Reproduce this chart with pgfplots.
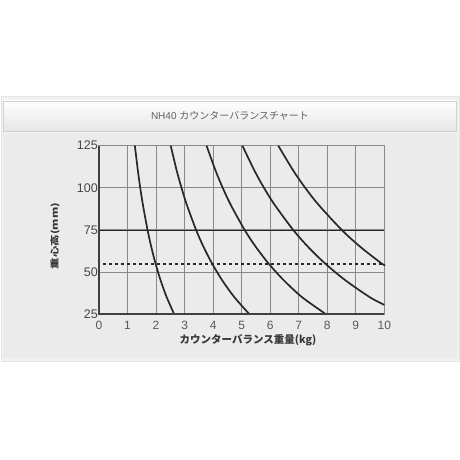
\documentclass[border=0pt]{standalone}
\usepackage{fontspec}
\setmainfont{Liberation Sans}
\newfontfamily\cjk{Noto Sans CJK JP}
\usepackage{pgfplots}
\pgfplotsset{compat=1.18}
\definecolor{panel}{HTML}{F1F1F1}
\definecolor{chartbg}{HTML}{EBEBEB}
\definecolor{gridc}{HTML}{8C8888}
\definecolor{curve}{HTML}{2E2626}

\begin{document}
\begin{tikzpicture}
\path[use as bounding box] (0pt,0pt) rectangle (460pt,460pt);
\fill[white] (0pt,0pt) rectangle (460pt,460pt);
% panel
\filldraw[fill=panel,draw=black!10] (1pt,99pt) rectangle (459pt,364pt);
\shade[top color=white,bottom color=black!10] (3.5pt,329pt) rectangle (456.5pt,359pt);
\draw[black!18] (3.5pt,329pt) rectangle (456.5pt,359pt);
\fill[chartbg] (3pt,102pt) rectangle (457pt,326pt);
\node[text=black!62] at (230pt,344pt) {\fontsize{10}{12}\selectfont NH40 {\cjk カウンターバランスチャート}};

\begin{axis}[
  at={(99pt,145.7pt)}, anchor=south west,
  scale only axis, width=285.3pt, height=168.6pt,
  xmin=0, xmax=10, ymin=25, ymax=125,
  xtick={0,...,10}, ytick={25,50,75,100,125},
  major tick length=0pt,
  grid=major,
  grid style={gridc, line width=1.1pt},
  axis line style={gridc, line width=1.1pt},
  clip=false,
  /pgf/number format/assume math mode=true,
  xticklabel style={font=\fontsize{12}{14}\selectfont, text=black!65, yshift=-3pt},
  yticklabel style={font=\fontsize{12.5}{14}\selectfont, text=black!72, inner sep=1pt},
]
% reference lines
\addplot[black!85, line width=0.9pt] coordinates {(0,75) (10,75)};
\addplot[curve, line width=2pt, dash pattern=on 2.6pt off 3.4pt] coordinates {(0.15,55) (10,55)};
% balance curves
\addplot[curve, line width=1.7pt, smooth] coordinates {
  (1.257,125) (1.364,110) (1.446,100) (1.538,90) (1.702,75) (1.832,65)
  (1.983,55) (2.162,45) (2.376,35) (2.637,25)};
\addplot[curve, line width=1.7pt, smooth] coordinates {
  (2.513,125) (2.727,110) (2.892,100) (3.077,90) (3.404,75) (3.664,65)
  (3.967,55) (4.324,45) (4.752,35) (5.275,25)};
\addplot[curve, line width=1.7pt, smooth] coordinates {
  (3.770,125) (4.091,110) (4.337,100) (4.615,90) (5.106,75) (5.496,65)
  (5.950,55) (6.486,45) (7.129,35) (7.960,25)};
\addplot[curve, line width=1.7pt, smooth] coordinates {
  (5.026,125) (5.455,110) (5.783,100) (6.154,90) (6.809,75) (7.328,65)
  (7.934,55) (8.649,45) (9.505,35) (10,30.6)};
\addplot[curve, line width=1.7pt, smooth] coordinates {
  (6.283,125) (6.818,110) (7.229,100) (7.692,90) (8.511,75) (9.160,65)
  (9.917,55) (10,54.6)};
% heavy left and bottom frame
\addplot[black!75, line width=1.8pt] coordinates {(0,125) (0,25) (10,25)};
\end{axis}

\node[font=\cjk\bfseries\fontsize{10.5}{12}\selectfont,text=black!78] at (248pt,120pt) {カウンターバランス重量(kg)};
\node[font=\cjk\bfseries\fontsize{11.5}{13}\selectfont,text=black!78,rotate=90] at (55pt,224pt) {\scalebox{1}[0.75]{重心高(mm)}};
\end{tikzpicture}
\end{document}
